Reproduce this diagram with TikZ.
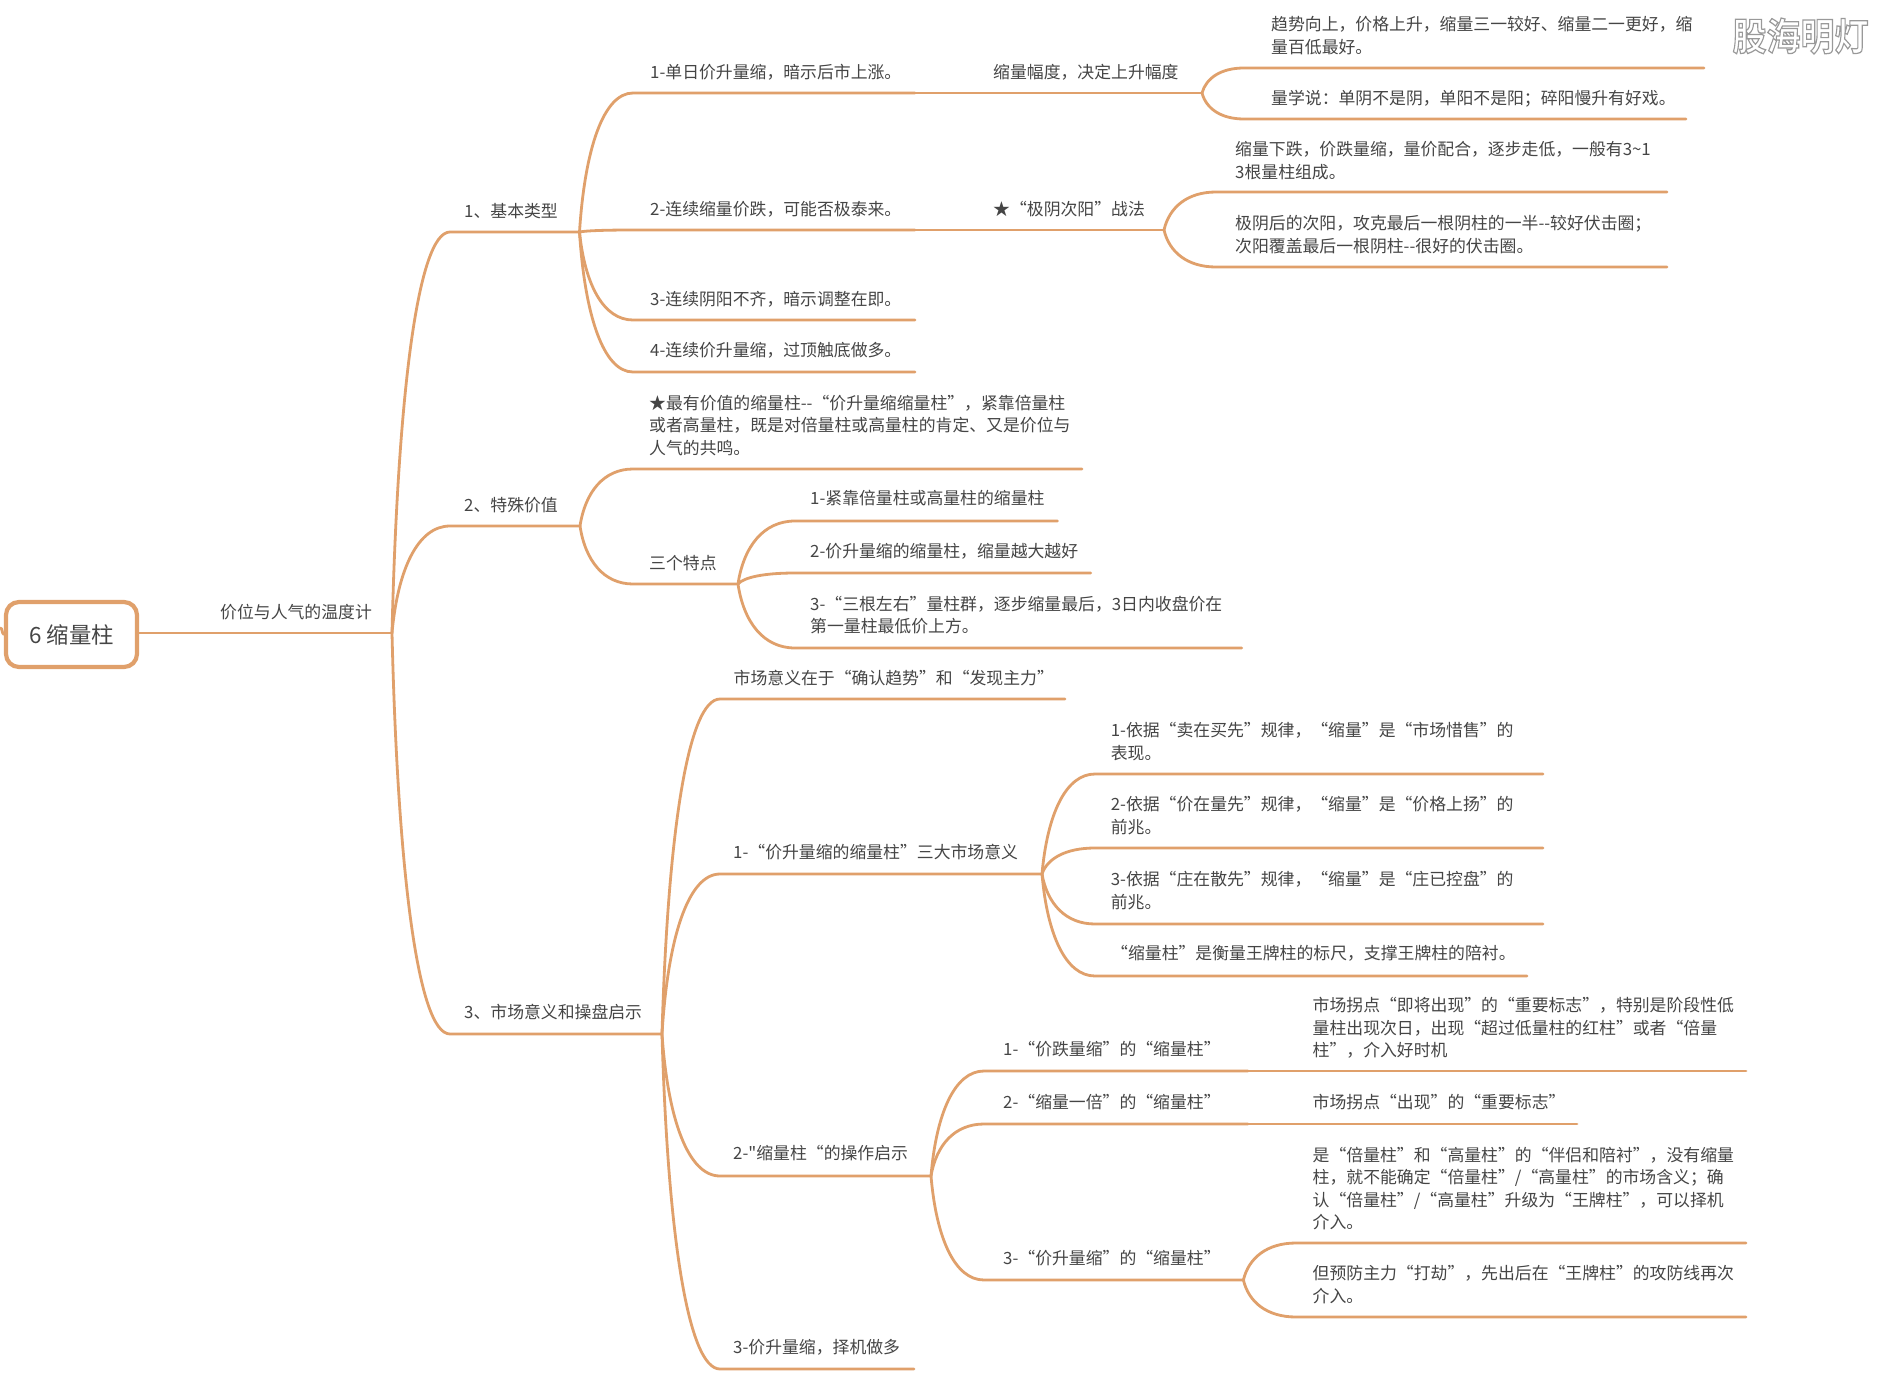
\documentclass[tikz,border=0pt]{standalone}
\usepackage{fontspec}
\setmainfont{Noto Sans CJK SC}[Ligatures=TeXOff]
\usetikzlibrary{calc}
\definecolor{lnc}{HTML}{E0A06B}
\definecolor{txt}{HTML}{454545}
\tikzset{
  lnk/.style={draw=lnc,line width=2.8pt,line cap=round},
  lab/.style={anchor=west,align=left,inner sep=0pt,text=txt,font=\fontsize{16.85}{22.5}\selectfont},
  rootbox/.style={draw=lnc,line width=4.2pt,rounded corners=13pt,fill=white,minimum width=131pt,minimum height=65pt,inner sep=0pt,text=txt,font=\fontsize{22.4}{26}\selectfont}
}
% connector: from junction #1, curving to #2, then straight on to #3
\newcommand{\conn}[3]{\draw[lnk] let \p1=(#1),\p2=(#2) in (\p1) .. controls ({\x1+0.1*(\x2-\x1)},{\y1+0.6*(\y2-\y1)}) and ({\x1+0.45*(\x2-\x1)},{\y2}) .. (\p2) -- (#3);}
\newcommand{\pt}[2]{\coordinate (#1) at (#2);}
\begin{document}
\begin{tikzpicture}[x=1pt,y=-1pt]
\useasboundingbox (0,0) rectangle (1885,1375.5);
\fill[white] (0,0) rectangle (1885,1375.5);
% ---- coordinates
\pt{j0}{392,633}
\pt{a1}{450,232}\pt{j1}{579.5,232}
\pt{a2}{450,526}\pt{j2}{580,526}
\pt{a3}{450,1034}\pt{j4}{662,1034}
\pt{b1}{633,93}\pt{m1}{915,93}\pt{jc}{1202,93}
\pt{b2}{633,230}\pt{m2}{915,230}\pt{jd}{1164,230}
\pt{b3}{633,320}\pt{f3}{915,320}
\pt{b4}{633,372}\pt{f4}{915,372}
\pt{c1}{1244,68}\pt{g1}{1704,68}
\pt{c2}{1244,119}\pt{g2}{1686,119}
\pt{d1}{1216,192}\pt{h1}{1667,192}
\pt{d2}{1216,267}\pt{h2}{1667,267}
\pt{e1}{633,469}\pt{i1}{1082,469}
\pt{e2}{633,584}\pt{j3}{738,584}
\pt{k1}{795,521}\pt{l1}{1057.5,521}
\pt{k2}{795,573}\pt{l2}{1090.6,573}
\pt{k3}{795,648}\pt{l3}{1241.6,648}
\pt{n1}{720,699}\pt{o1}{1065,699}
\pt{n2}{720,874}\pt{j5}{1042,874}
\pt{n3}{720,1176}\pt{j6}{931,1176}
\pt{n4}{720,1369}\pt{o4}{914,1369}
\pt{p1}{1095,774}\pt{q1}{1543,774}
\pt{p2}{1095,848}\pt{q2}{1543,848}
\pt{p3}{1095,924}\pt{q3}{1543,924}
\pt{p4}{1095,976}\pt{q4}{1527,976}
\pt{r1}{984,1071}\pt{m3}{1248,1071}\pt{s1}{1746,1071}
\pt{r2}{984,1124}\pt{m4}{1248,1124}\pt{s2}{1577,1124}
\pt{r3}{984,1280}\pt{j7}{1243.4,1280}
\pt{t1}{1296,1243}\pt{u1}{1746,1243}
\pt{t2}{1296,1317}\pt{u2}{1746,1317}
\pt{stub}{0,628}
% ---- connectors
\conn{j0}{a1}{j1}\conn{j0}{a2}{j2}\conn{j0}{a3}{j4}
\conn{j1}{b1}{m1}\conn{j1}{b2}{m2}\conn{j1}{b3}{f3}\conn{j1}{b4}{f4}
\draw[lnk] (m1) -- (jc);\draw[lnk] (m2) -- (jd);
\conn{jc}{c1}{g1}\conn{jc}{c2}{g2}
\conn{jd}{d1}{h1}\conn{jd}{d2}{h2}
\conn{j2}{e1}{i1}\conn{j2}{e2}{j3}
\conn{j3}{k1}{l1}\conn{j3}{k2}{l2}\conn{j3}{k3}{l3}
\conn{j4}{n1}{o1}\conn{j4}{n2}{j5}\conn{j4}{n3}{j6}\conn{j4}{n4}{o4}
\conn{j5}{p1}{q1}\conn{j5}{p2}{q2}\conn{j5}{p3}{q3}\conn{j5}{p4}{q4}
\conn{j6}{r1}{m3}\conn{j6}{r2}{m4}\conn{j6}{r3}{j7}
\draw[lnk] (m3) -- (s1);\draw[lnk] (m4) -- (s2);
\conn{j7}{t1}{u1}\conn{j7}{t2}{u2}
% ---- root
\node[rootbox] (root) at (71.5,634.5) {6 缩量柱};
\draw[lnk] (root.east |- j0) -- (j0);
\draw[lnk] (stub) to[out=0,in=150] (root.west);
% ---- labels
\node[lab] (tr) at (220,612) {价位与人气的温度计};
\node[lab] (n1l) at (464,211) {1、基本类型};
\node[lab] (n2l) at (464,505) {2、特殊价值};
\node[lab] (n3l) at (464,1012) {3、市场意义和操盘启示};
\node[lab] (t11) at (650,72) {1-单日价升量缩，暗示后市上涨。};
\node[lab] (t12) at (650,209) {2-连续缩量价跌，可能否极泰来。};
\node[lab] (t13) at (650,299) {3-连续阴阳不齐，暗示调整在即。};
\node[lab] (t14) at (650,350) {4-连续价升量缩，过顶触底做多。};
\node[lab] (t15) at (993,72) {缩量幅度，决定上升幅度};
\node[lab] (t16) at (993,209) {★“极阴次阳”战法};
\node[lab] (t17) at (1271,35.5) {趋势向上，价格上升，缩量三一较好、缩量二一更好，缩\\量百低最好。};
\node[lab] (t18) at (1271,98.5) {量学说：单阴不是阴，单阳不是阳；碎阳慢升有好戏。};
\node[lab] (t19) at (1235,160.5) {缩量下跌，价跌量缩，量价配合，逐步走低，一般有3\textasciitilde 1\\3根量柱组成。};
\node[lab] (t20) at (1235,234.5) {极阴后的次阳，攻克最后一根阴柱的一半--较好伏击圈；\\次阳覆盖最后一根阴柱--很好的伏击圈。};
\node[lab] (t21) at (649,425.5) {★最有价值的缩量柱--“价升量缩缩量柱”，紧靠倍量柱\\或者高量柱，既是对倍量柱或高量柱的肯定、又是价位与\\人气的共鸣。};
\node[lab] (t22) at (649,563) {三个特点};
\node[lab] (t23) at (810,498.5) {1-紧靠倍量柱或高量柱的缩量柱};
\node[lab] (t24) at (810,551.5) {2-价升量缩的缩量柱，缩量越大越好};
\node[lab] (t25) at (810,615) {3-“三根左右”量柱群，逐步缩量最后，3日内收盘价在\\第一量柱最低价上方。};
\node[lab] (t26) at (733.5,678) {市场意义在于“确认趋势”和“发现主力”};
\node[lab] (t27) at (733,852.5) {1-“价升量缩的缩量柱”三大市场意义};
\node[lab] (t28) at (733,1153) {2-"缩量柱“的操作启示};
\node[lab] (t29) at (733,1347) {3-价升量缩，择机做多};
\node[lab] (t30) at (1110.6,741.5) {1-依据“卖在买先”规律，“缩量”是“市场惜售”的\\表现。};
\node[lab] (t31) at (1110.6,815.5) {2-依据“价在量先”规律，“缩量”是“价格上扬”的\\前兆。};
\node[lab] (t32) at (1110.6,890.5) {3-依据“庄在散先”规律，“缩量”是“庄已控盘”的\\前兆。};
\node[lab] (t33) at (1111,953.5) {“缩量柱”是衡量王牌柱的标尺，支撑王牌柱的陪衬。};
\node[lab] (t34) at (1003,1049.5) {1-“价跌量缩”的“缩量柱”};
\node[lab] (t35) at (1003,1102.5) {2-“缩量一倍”的“缩量柱”};
\node[lab] (t36) at (1003,1258) {3-“价升量缩”的“缩量柱”};
\node[lab] (t37) at (1312.5,1028) {市场拐点“即将出现”的“重要标志”，特别是阶段性低\\量柱出现次日，出现“超过低量柱的红柱”或者“倍量\\柱”，介入好时机};
\node[lab] (t38) at (1312.5,1102.5) {市场拐点“出现”的“重要标志”};
\node[lab] (t39) at (1312.5,1188.5) {是“倍量柱”和“高量柱”的“伴侣和陪衬”，没有缩量\\柱，就不能确定“倍量柱”/“高量柱”的市场含义；确\\认“倍量柱”/“高量柱”升级为“王牌柱”，可以择机\\介入。};
\node[lab] (t40) at (1312.5,1284.5) {但预防主力“打劫”，先出后在“王牌柱”的攻防线再次\\介入。};
% ---- watermark
\node[inner sep=0pt,anchor=center,text=white,yscale=1.12,transform shape,font=\fontspec{Noto Sans CJK SC Bold}\fontsize{34}{36}\selectfont] (wm) at (1800.5,36) {\special{pdf:code 2 Tr 1.1 w 0.6 G}股海明灯\special{pdf:code 0 Tr 0 G}};
\end{tikzpicture}
\end{document}
